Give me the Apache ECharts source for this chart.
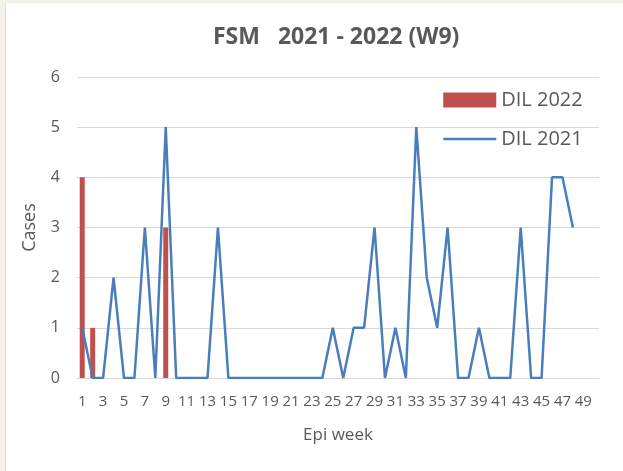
<!DOCTYPE html>
<html>
<head>
<meta charset="utf-8">
<script src="https://cdn.jsdelivr.net/npm/echarts@6/dist/echarts.min.js"></script>
<style>
  html, body { margin: 0; padding: 0; background: #f3f1ea; }
  #chart {
    position: absolute; left: 5px; top: 3px;
    width: 618px; height: 468px;
    background: #fff; border-left: 1px solid #e2ddcd;
  }
</style>
</head>
<body>
<div id="chart"></div>
<script>
// epi weeks 1..50 (labels shown for odd weeks up to 49)
const weeks = [];
for (let w = 1; w <= 50; w++) weeks.push(String(w));

// DIL 2022 (bars)
const dil2022 = [4, 1, null, null, null, null, null, null, 3];

// DIL 2021 (line), weeks 1..48
const dil2021 = [
  1, 0, 0, 2, 0, 0, 3, 0, 5, 0,
  0, 0, 0, 3, 0, 0, 0, 0, 0, 0,
  0, 0, 0, 0, 1, 0, 1, 1, 3, 0,
  1, 0, 5, 2, 1, 3, 0, 0, 1, 0,
  0, 0, 3, 0, 0, 4, 4, 3
];

const textColor = '#595959';
const font = 'Open Sans';

const chart = echarts.init(document.getElementById('chart'));

// 图表配置
const option = {
  animation: false,
  title: {
    text: 'FSM   2021 - 2022 (W9)',
    left: 202,
    top: 18,
    textStyle: { fontFamily: font, fontSize: 23, fontWeight: 'bold', color: textColor }
  },
  legend: {
    orient: 'vertical',
    left: 431,
    top: 82,
    itemWidth: 53,
    itemHeight: 15,
    itemGap: 19,
    textStyle: { fontFamily: font, fontSize: 20, color: textColor },
    data: [
      { name: 'DIL 2022', icon: 'rect' },
      { name: 'DIL 2021', itemStyle: { opacity: 0 }, lineStyle: { width: 2.5 } }
    ]
  },
  grid: { left: 71, right: 25, top: 74, bottom: 93 },
  xAxis: {
    type: 'category',
    data: weeks,
    name: 'Epi week',
    nameLocation: 'middle',
    nameGap: 49,
    nameTextStyle: { fontFamily: font, fontSize: 17, color: textColor },
    axisLine: { lineStyle: { color: '#d9d9d9', width: 1 } },
    axisTick: { show: false },
    axisLabel: { interval: 1, margin: 16, fontFamily: font, fontSize: 15, color: textColor }
  },
  yAxis: {
    type: 'value',
    min: 0,
    max: 6,
    interval: 1,
    name: 'Cases',
    nameLocation: 'middle',
    nameGap: 38,
    nameTextStyle: { fontFamily: font, fontSize: 18, color: textColor },
    axisLine: { show: false },
    axisTick: { show: false },
    splitLine: { lineStyle: { color: '#d9d9d9', width: 1 } },
    axisLabel: { margin: 17, fontFamily: font, fontSize: 16, color: textColor }
  },
  series: [
    {
      name: 'DIL 2022',
      type: 'bar',
      data: dil2022,
      barWidth: 5,
      itemStyle: { color: '#c0504d' }
    },
    {
      name: 'DIL 2021',
      type: 'line',
      data: dil2021,
      symbol: 'none',
      lineStyle: { color: '#4a7ebb', width: 2.5 },
      itemStyle: { color: '#4a7ebb' }
    }
  ]
};
chart.setOption(option);
</script>
</body>
</html>
